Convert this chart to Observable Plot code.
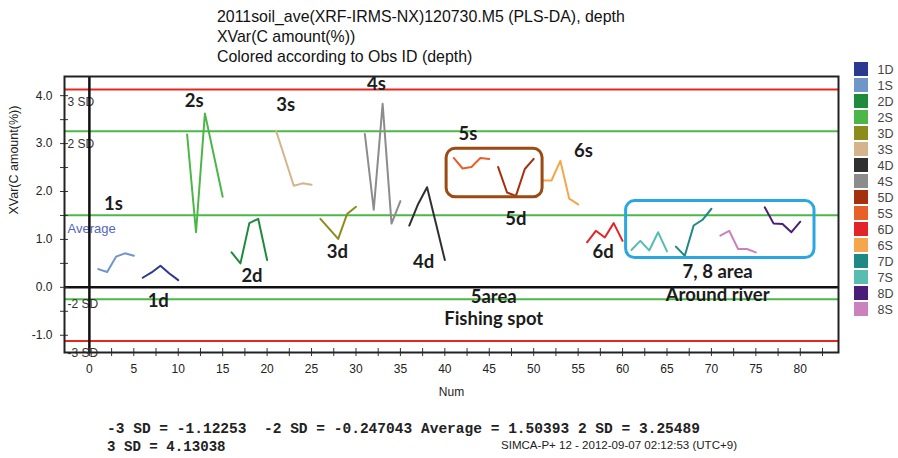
<!DOCTYPE html>
<html>
<head>
<meta charset="utf-8">
<script src="https://cdn.jsdelivr.net/npm/d3@7"></script>
<script src="https://cdn.jsdelivr.net/npm/@observablehq/plot@0.6"></script>
<style>
  html, body { margin: 0; padding: 0; background: #fff; }
  #wrap { position: relative; width: 898px; height: 458px; overflow: hidden; background: #fff; }
  #title { position: absolute; left: 217px; top: 7px; font: 15px "Liberation Sans Narrow", "Liberation Sans", Arial, sans-serif; line-height: 20px; color: #111; white-space: nowrap; }
  #title div { display: block; }
  #main { position: absolute; left: 0; top: 60px; }
  #legend { position: absolute; left: 849px; top: 52px; }
  #foot { position: absolute; left: 0; top: 405px; }
</style>
</head>
<body>
<div id="wrap">
  <div id="title"><div id="t1">2011soil_ave(XRF-IRMS-NX)120730.M5 (PLS-DA), depth</div><div>XVar(C amount(%))</div><div>Colored according to Obs ID (depth)</div></div>
  <div id="main"></div>
  <div id="legend"></div>
  <svg id="foot" width="898" height="53" xmlns="http://www.w3.org/2000/svg">
    <g style="font-family: 'Liberation Mono', 'Courier New', monospace; font-size: 14px; font-weight: bold; fill: #222;">
      <text id="foot1" x="107" y="27.5" textLength="593" lengthAdjust="spacingAndGlyphs" xml:space="preserve"></text>
      <text id="foot2" x="107" y="45.5" textLength="118.6" lengthAdjust="spacingAndGlyphs"></text>
    </g>
    <text x="501" y="44" textLength="236" lengthAdjust="spacingAndGlyphs"
          style="font-family: 'Liberation Sans Narrow', 'Liberation Sans', Arial, sans-serif; font-size: 11px; fill: #222;">SIMCA-P+ 12 - 2012-09-07 02:12:53 (UTC+9)</text>
  </svg>
</div>
<script>
// ---- data ----
// Obs ID groups in order along Num (5 observations each)
const obsOrder = ["1S","1D","2S","2D","3S","3D","4S","4D","5S","5D","6S","6D","7S","7D","8S","8D"];
// XVar(C amount(%)) per Num 1..80
const xvar = [
  0.38, 0.32, 0.64, 0.71, 0.66,
  0.20, 0.31, 0.45, 0.29, 0.15,
  3.19, 1.15, 3.63, 2.76, 1.89,
  0.73, 0.50, 1.34, 1.43, 0.57,
  3.27, 2.70, 2.12, 2.17, 2.14,
  1.43, 1.22, 1.01, 1.53, 1.68,
  3.20, 1.62, 3.83, 1.33, 1.80,
  1.29, 1.74, 2.09, 1.33, 0.57,
  2.70, 2.48, 2.51, 2.70, 2.68,
  2.51, 1.98, 1.91, 2.47, 2.68,
  2.23, 2.23, 2.64, 1.85, 1.73,
  0.94, 1.18, 1.04, 1.34, 0.97,
  0.78, 0.97, 0.77, 1.15, 0.75,
  0.85, 0.66, 1.29, 1.41, 1.64,
  1.08, 1.18, 0.80, 0.80, 0.73,
  1.67, 1.33, 1.32, 1.15, 1.37
];
// legend order and colors
const legendIds = ["1D","1S","2D","2S","3D","3S","4D","4S","5D","5S","6D","6S","7D","7S","8D","8S"];
const legendColors = ["#2B3990","#6F96C9","#1E8B3C","#4CB748","#8C8C1A","#D5B48B","#303030","#8C8C8C",
                      "#A4300E","#E95F2A","#E2232A","#F5A64D","#1E8884","#56BDB0","#4A1E78","#CB82BC"];
// control limits
const sdNames = ["-3 SD","-2 SD","Average","2 SD","3 SD"];
const sdValues = [-1.12253, -0.247043, 1.50393, 3.25489, 4.13038];
// axis ticks
const xTicks = [0,2.5,5,7.5,10,12.5,15,17.5,20,22.5,25,27.5,30,32.5,35,37.5,40,42.5,45,47.5,50,52.5,55,57.5,60,62.5,65,67.5,70,72.5,75,77.5,80,82.5];
const yTicks = [-1,-0.5,0,0.5,1,1.5,2,2.5,3,3.5,4];
// annotations
const noteText = ["1s","2s","3s","4s","5s","6s","1d","2d","3d","4d","5d","6d","7, 8 area","Around river","5area","Fishing spot"];
const noteNum  = [2.7, 11.8, 22.1, 32.3, 42.6, 55.6, 7.75, 18.3, 27.9, 37.6, 48.0, 57.8, 70.7, 70.7, 45.5, 45.5];
const noteVal  = [1.74, 3.88, 3.81, 4.25, 3.20, 2.85, -0.28, 0.24, 0.73, 0.52, 1.43, 0.73, 0.31, -0.17, -0.20, -0.66];
const boxNames = ["5 area", "7, 8 area"];
const boxNum1 = [40.2, 60.4], boxNum2 = [51.0, 81.6];
const boxVal1 = [1.88, 0.61], boxVal2 = [2.89, 1.80];

// ---- build tables ----
const obs = xvar.map((v, i) => ({num: i + 1, id: obsOrder[Math.floor(i / 5)], v}));
const sd = sdNames.map((name, i) => ({name, value: sdValues[i]}));
const notes = noteText.map((t, i) => ({t, x: noteNum[i], y: noteVal[i]}));
const boxes = boxNames.map((n, i) => ({n, x1: boxNum1[i], x2: boxNum2[i], y1: boxVal1[i], y2: boxVal2[i]}));

// styling (not data)
const sdStroke = {"-3 SD": "#E8261E", "3 SD": "#E8261E", "-2 SD": "#4DB848", "2 SD": "#4DB848", "Average": "#4DB848"};
const boxStroke = {"5 area": "#9A4A12", "7, 8 area": "#2AA7E1"};
const axisFont = "'Liberation Sans Narrow', 'Liberation Sans', Arial, sans-serif";
const color = {domain: legendIds, range: legendColors};

const sdLabel = (names, dy, extra = {}) =>
  Plot.text(sd.filter(d => names.includes(d.name)), {y: "value", text: "name", frameAnchor: "left", textAnchor: "start",
    dx: 3, dy, fill: "#333", fontSize: 12, ...extra});

const main = Plot.plot({
  width: 898,
  height: 345,
  marginLeft: 64,
  marginRight: 60,
  marginTop: 16,
  marginBottom: 53,
  style: {fontFamily: axisFont, fontSize: "12px", color: "#222", background: "transparent"},
  x: {domain: [-2.8, 84.3]},
  y: {domain: [-1.36, 4.40]},
  color,
  marks: [
    Plot.ruleY(sd, {y: "value", stroke: d => sdStroke[d.name], strokeWidth: 2}),
    sdLabel(["3 SD", "2 SD"], 13),
    sdLabel(["-3 SD"], 12),
    sdLabel(["-2 SD"], 5),
    sdLabel(["Average"], 14, {fill: "#5366C4", fontSize: 13, fontFamily: "'Liberation Sans', Arial, sans-serif"}),
    Plot.ruleY([0], {stroke: "#111", strokeWidth: 2.5}),
    Plot.ruleX([0], {stroke: "#111", strokeWidth: 2.5}),
    Plot.line(obs, {x: "num", y: "v", z: "id", stroke: "id", strokeWidth: 2}),
    Plot.rect(boxes, {x1: "x1", x2: "x2", y1: "y1", y2: "y2", stroke: d => boxStroke[d.n], strokeWidth: 3, fill: "none", rx: 9}),
    Plot.text(notes, {x: "x", y: "y", text: "t", fontFamily: "Lato, 'Open Sans', sans-serif", fontWeight: "bold", fontSize: 18.5, fill: "#1c1c1c"}),
    Plot.axisY({ticks: yTicks, tickFormat: d => Number.isInteger(d) ? d.toFixed(1) : "", tickSize: 8, tickPadding: 8, dx: 4, label: null, stroke: "#333"}),
    Plot.axisX({ticks: xTicks, tickFormat: d => d % 5 === 0 ? String(d) : "", tickSize: 8, tickPadding: 8, dy: -4, label: null, stroke: "#333"}),
    Plot.text(["Num"], {frameAnchor: "bottom", dy: 43, fontSize: 12}),
    Plot.text(["XVar(C amount(%))"], {frameAnchor: "left", rotate: -90, dx: -51, fontSize: 12.5}),
    Plot.frame({stroke: "#222", strokeWidth: 2})
  ]
});
document.getElementById("main").appendChild(main);

const legend = Plot.plot({
  width: 49,
  height: 275,
  margin: 0,
  style: {fontFamily: axisFont, fontSize: "12.5px", color: "#444", background: "transparent"},
  x: {type: "band", domain: ["s"], range: [3, 21], axis: null},
  y: {type: "band", domain: legendIds, range: [3, 270], paddingInner: 0.14, paddingOuter: 0, axis: null},
  color,
  marks: [
    Plot.cell(legendIds, {x: () => "s", y: d => d, fill: d => d}),
    Plot.text(legendIds, {x: () => "s", y: d => d, text: d => d, textAnchor: "start", dx: 16, fill: "#444"})
  ]
});
document.getElementById("legend").appendChild(legend);

document.getElementById("foot1").textContent =
  `${sdNames[0]} = ${sdValues[0]}  ${sdNames[1]} = ${sdValues[1]} ${sdNames[2]} = ${sdValues[2]} ${sdNames[3]} = ${sdValues[3]}`;
document.getElementById("foot2").textContent = `${sdNames[4]} = ${sdValues[4]}`;

// fit the first title line to the reference width
const t1 = document.getElementById("t1");
t1.style.display = "inline-block";
const w = t1.getBoundingClientRect().width;
document.getElementById("title").style.fontSize = (15 * 408 / w) + "px";
t1.style.display = "block";
</script>
</body>
</html>
